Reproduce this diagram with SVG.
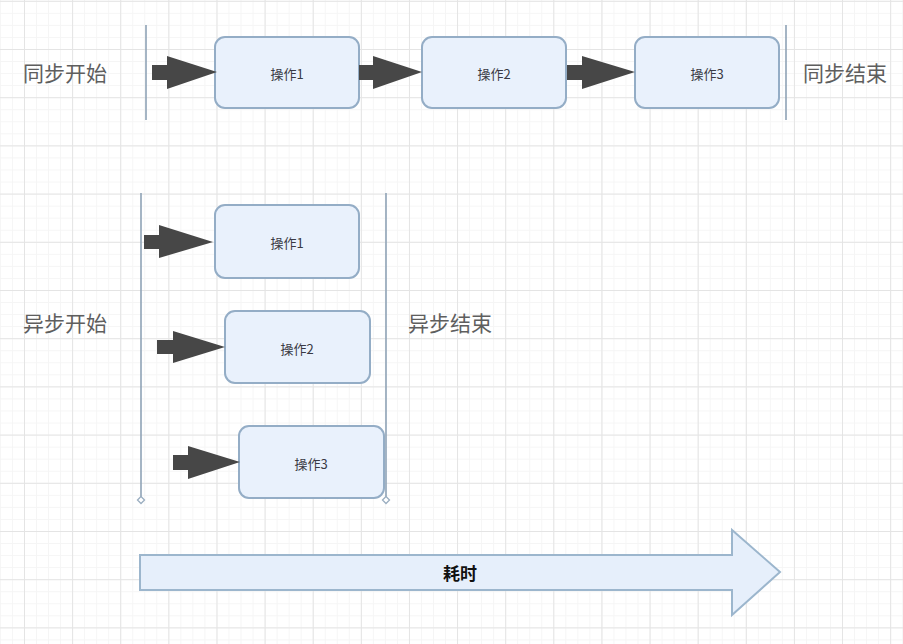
<svg xmlns="http://www.w3.org/2000/svg" width="903" height="644" viewBox="0 0 903 644">
<defs>
<pattern id="minor" patternUnits="userSpaceOnUse" x="24" y="49" width="12.03" height="12.05">
<path d="M0 0.5H12.03M0.5 0V12.05" fill="none" stroke="#f5f5f5" stroke-width="1"/>
</pattern>
<pattern id="major" patternUnits="userSpaceOnUse" x="24" y="49" width="48.12" height="48.2">
<path d="M0 0.5H48.12M0.5 0V48.2" fill="none" stroke="#e4e4e4" stroke-width="1"/>
</pattern>
</defs>
<style>
.box{fill:#e9f1fc;stroke:#94adc6;stroke-width:2}
.lbl{font-family:"Noto Sans CJK SC","Liberation Sans",sans-serif;font-size:13px;fill:#3a3a44;text-anchor:middle;dominant-baseline:central}
.big{font-family:"Noto Sans CJK SC","Liberation Serif",serif;font-size:21px;fill:#5e5e5e;dominant-baseline:central}
.blk{fill:#474747}
.vl{stroke:#8fa3b6;stroke-width:1.6;fill:none}
.dm{fill:#fff;stroke:#9aaec0;stroke-width:1.3}
</style>
<rect width="903" height="644" fill="#ffffff"/>
<rect width="903" height="644" fill="url(#minor)"/>
<rect width="903" height="644" fill="url(#major)"/>

<g id="sync-start"><text class="big" x="23" y="72">同步开始</text><line class="vl" x1="146" y1="25" x2="146" y2="120"/></g>
<g id="sync-end"><text class="big" x="803" y="72">同步结束</text><line class="vl" x1="786" y1="25" x2="786" y2="120"/></g>

<g id="sync-op1"><rect class="box" x="215" y="37" width="144" height="71" rx="10"/><text class="lbl" x="287" y="73">操作1</text></g>
<g id="sync-op2"><rect class="box" x="422" y="37" width="144" height="71" rx="10"/><text class="lbl" x="494" y="73">操作2</text></g>
<g id="sync-op3"><rect class="box" x="635" y="37" width="144" height="71" rx="10"/><text class="lbl" x="707" y="73">操作3</text></g>

<g id="async-start"><text class="big" x="23" y="322">异步开始</text><line class="vl" x1="141" y1="193" x2="141" y2="497"/><path class="dm" d="M141 496.5l3.5 3.5l-3.5 3.5l-3.5-3.5z"/></g>
<g id="async-end"><text class="big" x="408" y="322">异步结束</text><line class="vl" x1="386" y1="193" x2="386" y2="497"/><path class="dm" d="M386 496.5l3.5 3.5l-3.5 3.5l-3.5-3.5z"/></g>

<g id="async-op1"><rect class="box" x="215" y="205" width="144" height="73" rx="10"/><text class="lbl" x="287" y="242">操作1</text></g>
<g id="async-op2"><rect class="box" x="225" y="311" width="145" height="72" rx="10"/><text class="lbl" x="297" y="348">操作2</text></g>
<g id="async-op3"><rect class="box" x="239" y="426" width="145" height="72" rx="10"/><text class="lbl" x="311" y="463">操作3</text></g>

<g id="connectors">
<polygon class="blk" points="152,65 167,65 167,56 217,72 167,89 167,80 152,80"/>
<polygon class="blk" points="359,65 373,65 373,56 422,72 373,89 373,80 359,80"/>
<polygon class="blk" points="567,65 582,65 582,56 635,72 582,89 582,80 567,80"/>
<polygon class="blk" points="144,235 159,235 159,225 213,242 159,258 159,249 144,249"/>
<polygon class="blk" points="157,340 173,340 173,331 225,347 173,363 173,354 157,354"/>
<polygon class="blk" points="173,455 188,455 188,446 240,462 188,479 188,470 173,470"/>
</g>

<g id="time-arrow">
<polygon points="140,555 732,555 732,530 780,572 732,615 732,590 140,590" fill="#e6effb" stroke="#9cb6cd" stroke-width="2" stroke-linejoin="miter"/>
<text x="460" y="572" font-family="'Noto Sans CJK SC','Liberation Sans',sans-serif" font-size="17" font-weight="bold" fill="#111" text-anchor="middle" dominant-baseline="central">耗时</text>
</g>
</svg>
